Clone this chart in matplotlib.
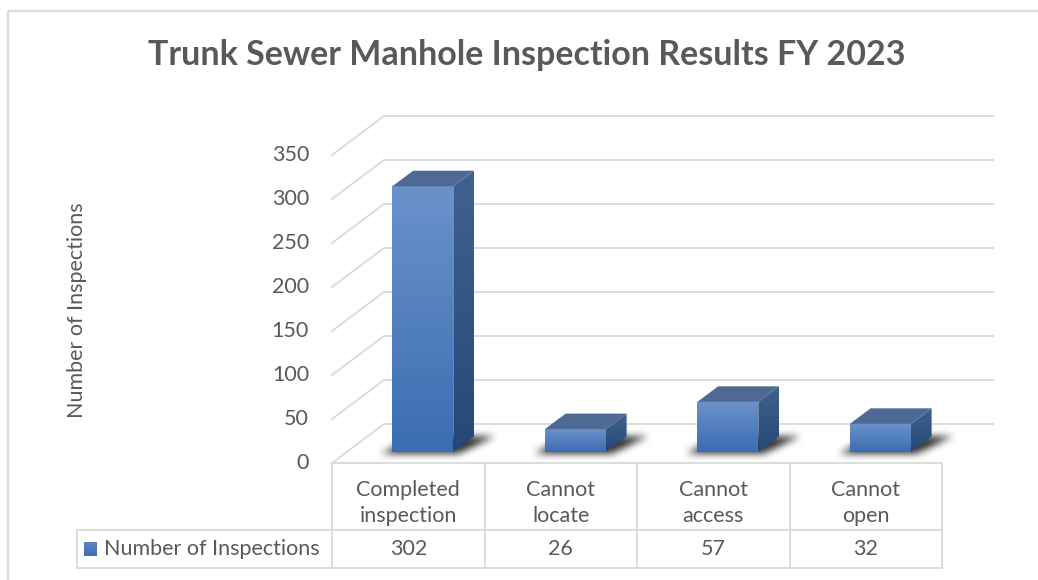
import numpy as np
import matplotlib
matplotlib.use("Agg")
import matplotlib.pyplot as plt
from matplotlib.patches import Polygon, Rectangle
from matplotlib.colors import LinearSegmentedColormap
from matplotlib.path import Path

# ---------------- data ----------------
categories = ["Completed\ninspection", "Cannot\nlocate", "Cannot\naccess", "Cannot\nopen"]
values = [302, 26, 57, 32]
series_name = "Number of Inspections"
y_ticks = [0, 50, 100, 150, 200, 250, 300, 350]
title = "Trunk Sewer Manhole Inspection Results FY 2023"
y_label = "Number of Inspections"

# ---------------- style ----------------
FONT = "Lato"
TXT = "#595959"
GRID = "#D9D9D9"
W, H = 1038, 580
FS = 15.5

fig = plt.figure(figsize=(W / 100, H / 100), dpi=100)
ax = fig.add_axes([0, 0, 1, 1])
ax.set_xlim(0, W)
ax.set_ylim(H, 0)
ax.axis("off")

# pseudo-3D geometry (pixel space)
FX0, FX1 = 332, 942      # front floor edge
FY0 = 463                # front baseline
DX, DY = 52, -39         # front -> back offset
VMAX = y_ticks[-1]
K = 308 / VMAX           # px per unit


def P(xf, v, t):
    return (xf + t * DX, FY0 - K * v + t * DY)


def grad_poly(verts, c_top, c_bot, z):
    poly = Polygon(verts, closed=True, facecolor="none", edgecolor="none", zorder=z)
    ax.add_patch(poly)
    xs = [p[0] for p in verts]
    ys = [p[1] for p in verts]
    cmap = LinearSegmentedColormap.from_list("g", [c_top, c_bot])
    g = np.linspace(0, 1, 256).reshape(-1, 1)
    im = ax.imshow(g, cmap=cmap, extent=(min(xs), max(xs), max(ys), min(ys)),
                   origin="upper", aspect="auto", interpolation="bilinear", zorder=z)
    im.set_clip_path(poly)


def blur_shadow(verts, z, pad=14, passes=3, r=3, amax=0.9):
    xs = [p[0] for p in verts]
    ys = [p[1] for p in verts]
    x0, x1 = min(xs) - pad, max(xs) + pad
    y0, y1 = min(ys) - pad, max(ys) + pad
    nx, ny = int(x1 - x0), int(y1 - y0)
    gx, gy = np.meshgrid(np.arange(nx) + x0 + 0.5, np.arange(ny) + y0 + 0.5)
    m = Path(verts).contains_points(np.c_[gx.ravel(), gy.ravel()]).reshape(ny, nx).astype(float)
    ker = np.ones(2 * r + 1) / (2 * r + 1)
    for _ in range(passes):
        m = np.apply_along_axis(lambda a: np.convolve(a, ker, mode="same"), 1, m)
        m = np.apply_along_axis(lambda a: np.convolve(a, ker, mode="same"), 0, m)
    rgba = np.zeros((ny, nx, 4))
    rgba[..., :3] = 0.1
    rgba[..., 3] = m * amax
    ax.imshow(rgba, extent=(x0, x1, y1, y0), origin="upper", aspect="auto",
              interpolation="bilinear", zorder=z)


# chart border
ax.add_patch(Rectangle((8, 11), 1060, 620, facecolor="none", edgecolor=GRID, lw=1.6, zorder=1))

# title
ax.text(527, 55, title, ha="center", va="center", fontsize=24.5, fontweight="bold",
        color=TXT, family=FONT, zorder=5)

# gridlines: back wall + side wall
for v in y_ticks:
    bx0, by = P(FX0, v, 1)
    bx1, _ = P(FX1, v, 1)
    ax.plot([bx0, bx1], [by, by], color=GRID, lw=1.3, zorder=2, solid_capstyle="butt")
    fx, fy = P(FX0, v, 0)
    ax.plot([fx, bx0], [fy, by], color=GRID, lw=1.3, zorder=2)
    ax.text(309, fy, str(v), ha="right", va="center", fontsize=FS, color=TXT, family=FONT)

# y label
ax.text(77, 310, y_label, rotation=90, ha="center", va="center", fontsize=FS,
        color=TXT, family=FONT)

# bars
n = len(values)
cw = (FX1 - FX0) / n
bw = 30.5
t0, t1 = 0.28, 0.68
for i, v in enumerate(values):
    c = FX0 + cw * (i + 0.5)
    xl, xr = c - bw, c + bw
    xl0, yb0 = P(xl, 0, t0)
    xr0 = P(xr, 0, t0)[0]
    yt0 = P(xl, v, t0)[1]
    xl1, yb1 = P(xl, 0, t1)
    xr1 = P(xr, 0, t1)[0]
    yt1 = P(xl, v, t1)[1]
    # shadow
    blur_shadow([(xl0 - 10, yb0 + 1), (xr0 + 6, yb0 + 1), (xr1 + 20, yb1), (xl1, yb1)], z=3)
    # front face
    grad_poly([(xl0, yt0), (xr0, yt0), (xr0, yb0), (xl0, yb0)], "#6B92CA", "#3B6DB2", 4)
    # side face
    grad_poly([(xr0, yt0), (xr1, yt1), (xr1, yb1), (xr0, yb0)], "#41628F", "#254878", 4)
    # top face
    ax.add_patch(Polygon([(xl0, yt0), (xr0, yt0), (xr1, yt1), (xl1, yt1)], closed=True,
                         facecolor="#4E6A94", edgecolor="none", zorder=4))

# data table
TY0, TY1, TY2 = 463, 530, 568
LX = 77
lw_t = 1.3
cols = [FX0 + cw * k for k in range(n + 1)]
ax.plot([FX0, FX1], [TY0, TY0], color=GRID, lw=lw_t, zorder=2)
ax.plot([LX, FX1], [TY1, TY1], color=GRID, lw=lw_t, zorder=2)
ax.plot([LX, FX1], [TY2, TY2], color=GRID, lw=lw_t, zorder=2)
ax.plot([LX, LX], [TY1, TY2], color=GRID, lw=lw_t, zorder=2)
for x in cols:
    ax.plot([x, x], [TY0, TY2], color=GRID, lw=lw_t, zorder=2)
for i in range(n):
    c = FX0 + cw * (i + 0.5)
    ax.text(c, 503, categories[i], ha="center", va="center", fontsize=FS, color=TXT,
            family=FONT, linespacing=1.35)
    ax.text(c, 549, str(values[i]), ha="center", va="center", fontsize=FS, color=TXT,
            family=FONT)
grad_poly([(84, 542), (97, 542), (97, 556), (84, 556)], "#5D87C6", "#3B6DB2", 4)
ax.text(104, 549, series_name, ha="left", va="center", fontsize=FS, color=TXT, family=FONT)

fig.savefig("out.png", dpi=100)
